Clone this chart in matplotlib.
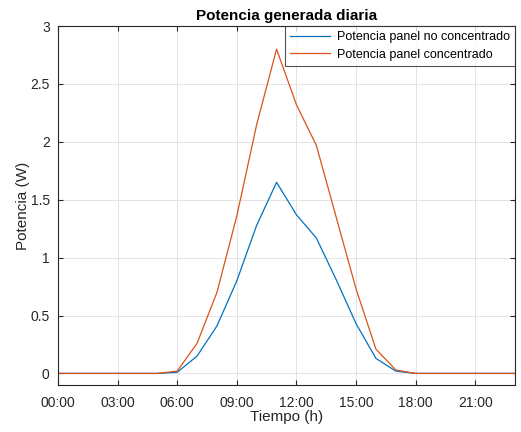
import matplotlib
matplotlib.use("Agg")
import matplotlib.pyplot as plt

plt.rcParams['font.family'] = ['Liberation Sans', 'DejaVu Sans']

hours = list(range(24))
p_no_conc = [0, 0, 0, 0, 0, 0, 0.01, 0.15, 0.41, 0.80, 1.28, 1.65, 1.37, 1.17,
             0.81, 0.43, 0.13, 0.02, 0, 0, 0, 0, 0, 0]
p_conc = [0, 0, 0, 0, 0, 0, 0.02, 0.26, 0.70, 1.36, 2.15, 2.80, 2.32, 1.97,
          1.35, 0.73, 0.21, 0.03, 0, 0, 0, 0, 0, 0]
xtick_hours = [0, 3, 6, 9, 12, 15, 18, 21]
xtick_labels = ["00:00", "03:00", "06:00", "09:00", "12:00", "15:00", "18:00", "21:00"]
yticks = [0, 0.5, 1, 1.5, 2, 2.5, 3]
ytick_labels = ["0", "0.5", "1", "1.5", "2", "2.5", "3"]

fig = plt.figure(figsize=(5.21, 4.32), dpi=100)
ax = fig.add_axes([58/521, 1-385/432, (515-58)/521, (385-26)/432])

ax.plot(hours, p_no_conc, color='#0072BD', lw=0.9, label='Potencia panel no concentrado')
ax.plot(hours, p_conc, color='#D95319', lw=0.9, label='Potencia panel concentrado')

ax.set_xlim(0, 23)
ax.set_ylim(-0.1, 3)
ax.set_xticks(xtick_hours)
ax.set_xticklabels(xtick_labels)
ax.set_yticks(yticks)
ax.set_yticklabels(ytick_labels)

ax.grid(True, color='#E3E3E3', lw=0.7)
ax.set_axisbelow(True)
for s in ax.spines.values():
    s.set_color('#262626')
    s.set_linewidth(0.8)
ax.tick_params(direction='in', top=True, right=True, length=3.5, width=0.8,
               colors='#262626', labelsize=10, labelcolor='#262626')
ax.tick_params(axis='x', pad=8)
ax.tick_params(axis='y', pad=6)

ax.set_xlabel('Tiempo (h)', fontsize=11, color='#262626', labelpad=0)
ax.set_ylabel('Potencia (W)', fontsize=11, color='#262626', labelpad=0)
ax.set_title('Potencia generada diaria', fontsize=11, fontweight='bold', color='black', pad=4)

leg = ax.legend(loc='upper right', fontsize=9, frameon=True, fancybox=False,
                edgecolor='#262626', borderaxespad=0.0, handlelength=3.2,
                handletextpad=0.55, borderpad=0.4, labelspacing=0.45)
leg.get_frame().set_linewidth(0.8)
for t in leg.get_texts():
    t.set_color('black')

fig.savefig('out.png', dpi=100)
